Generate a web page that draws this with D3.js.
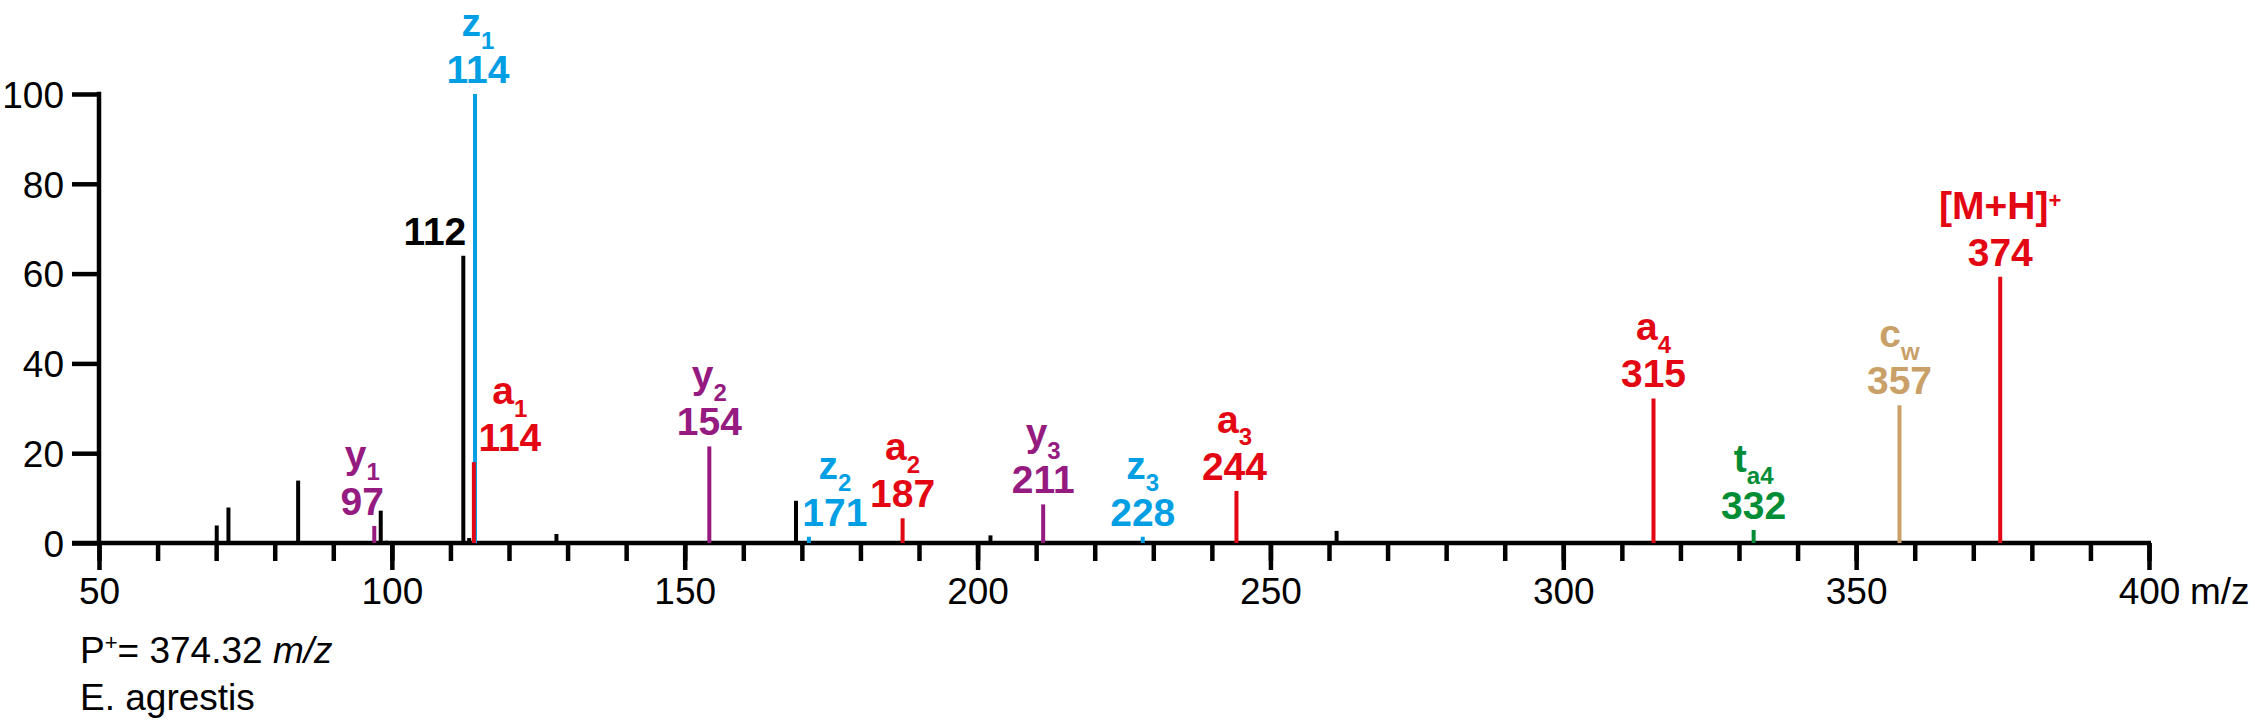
<!DOCTYPE html>
<html>
<head>
<meta charset="utf-8">
<script src="https://cdn.jsdelivr.net/npm/d3@7"></script>
<style>
  html, body { margin: 0; padding: 0; background: #fff; }
  svg { display: block; font-family: "Liberation Sans", Arial, sans-serif; }
</style>
</head>
<body>
<svg id="chart" width="2255" height="723"></svg>
<script>
// ---------------- DATA ----------------
// x axis
const xDomain = [50, 400];
const xMajorTicks = [50, 100, 150, 200, 250, 300, 350, 400];
const xMinorTicks = d3.range(50, 401, 10);
const xUnit = "m/z";
// y axis
const yDomain = [0, 100];
const yTicks = [0, 20, 40, 60, 80, 100];

// unassigned (black) peaks
const otherMz  = [70.1, 72.1, 84.0, 98.1, 112.2, 113.2, 128.1, 169.0, 202.2, 261.3];
const otherInt = [3.9, 7.9, 13.9, 7.2, 64.0, 1.1, 2.0, 9.4, 1.7, 2.7];
// baseline noise peaks
const noiseMz  = [60.0, 99.1, 130.9, 143.2, 151.2, 178.7, 193.9, 240.0, 255.0, 292.6, 297.2, 333.9, 340.4, 344.7, 368.6];
const noiseInt = [0.4, 0.5, 0.3, 0.3, 0.3, 0.3, 0.3, 0.3, 0.3, 0.3, 0.3, 0.3, 0.4, 0.3, 0.4];

// y ions (purple)
const yIonMz  = [97.0, 154.2, 211.2];
const yIonInt = [3.8, 21.5, 8.6];
const yIonSub = ["1", "2", "3"];
const yIonLabel = ["97", "154", "211"];
// z ions (blue)
const zIonMz  = [114.2, 171.2, 228.2];
const zIonInt = [100, 1.4, 1.4];
const zIonSub = ["1", "2", "3"];
const zIonLabel = ["114", "171", "228"];
// a ions (red)
const aIonMz  = [114.0, 187.2, 244.2, 315.4];
const aIonInt = [18.0, 5.5, 11.6, 32.2];
const aIonSub = ["1", "2", "3", "4"];
const aIonLabel = ["114", "187", "244", "315"];
// t ion (green)
const tIonMz = [332.5];
const tIonInt = [2.9];
const tIonSub = ["a4"];
const tIonLabel = ["332"];
// c ion (tan)
const cIonMz = [357.4];
const cIonInt = [30.7];
const cIonSub = ["w"];
const cIonLabel = ["357"];
// precursor (red)
const mhMz = [374.6];
const mhInt = [59.3];
const mhLabel = ["374"];
// labelled black peak
const blackLabelMz = [112.2];
const blackLabelInt = [64.0];
const blackLabel = ["112"];

const noteLine1 = ["P", "+", "= 374.32 ", "m/z"];
const noteLine2 = "E. agrestis";

// ---------------- LAYOUT ----------------
const colors = {
  black: "#000000",
  y: "rgb(149,27,129)",
  z: "rgb(0,159,227)",
  a: "rgb(227,6,19)",
  t: "rgb(0,141,54)",
  c: "rgb(201,160,104)"
};

const svg = d3.select("#chart");
const x = d3.scaleLinear().domain(xDomain).range([99, 2149]);
const y = d3.scaleLinear().domain(yDomain).range([543, 94]);

const AXW = 4.5;
const tickFont = 37;
const labFont = 39;
const subFont = 24;

// ---- axes ----
// x minor ticks
const gxMinor = svg.append("g").attr("transform", `translate(0,${y(0)})`)
  .call(d3.axisBottom(x).tickValues(xMinorTicks).tickSize(18).tickSizeOuter(0).tickFormat(""));
gxMinor.select(".domain").remove();
gxMinor.selectAll("line").attr("stroke", "#000").attr("stroke-width", AXW);

// x major ticks
const gxMajor = svg.append("g").attr("transform", `translate(0,${y(0)})`)
  .call(d3.axisBottom(x).tickValues(xMajorTicks).tickSize(27).tickSizeOuter(0).tickFormat(d3.format("d")));
gxMajor.select(".domain").remove();
gxMajor.selectAll("line").attr("stroke", "#000").attr("stroke-width", AXW);
gxMajor.selectAll("text")
  .attr("y", 61).attr("dy", null)
  .attr("font-size", tickFont).attr("fill", "#000")
  .attr("font-family", "Liberation Sans, Arial, sans-serif");

svg.append("text")
  .attr("x", x(400) + 41).attr("y", y(0) + 61)
  .attr("font-size", tickFont).attr("fill", "#000")
  .text(xUnit);

// y axis
const gy = svg.append("g").attr("transform", `translate(${x(50)},0)`)
  .call(d3.axisLeft(y).tickValues(yTicks).tickSize(27).tickSizeOuter(0).tickFormat(d3.format("d")));
gy.select(".domain").remove();
gy.selectAll("line").attr("stroke", "#000").attr("stroke-width", AXW);
gy.selectAll("text")
  .attr("x", -35).attr("dy", "0.36em")
  .attr("font-size", tickFont).attr("fill", "#000")
  .attr("font-family", "Liberation Sans, Arial, sans-serif");

// axis lines
svg.append("line")
  .attr("x1", x(50) - 27).attr("x2", x(400) + 2)
  .attr("y1", y(0)).attr("y2", y(0))
  .attr("stroke", "#000").attr("stroke-width", AXW);
svg.append("line")
  .attr("x1", x(50)).attr("x2", x(50))
  .attr("y1", y(100) - AXW / 2).attr("y2", y(0))
  .attr("stroke", "#000").attr("stroke-width", AXW);

// ---- peaks ----
function drawPeaks(mz, inten, color, width) {
  svg.append("g").selectAll("line")
    .data(mz.map((m, i) => ({ m, v: inten[i] })))
    .join("line")
    .attr("x1", d => x(d.m)).attr("x2", d => x(d.m))
    .attr("y1", y(0)).attr("y2", d => y(d.v))
    .attr("stroke", color).attr("stroke-width", width);
}
drawPeaks(noiseMz, noiseInt, colors.black, 3);
drawPeaks(otherMz, otherInt, colors.black, 4);
drawPeaks(yIonMz, yIonInt, colors.y, 4);
drawPeaks(zIonMz, zIonInt, colors.z, 4);
drawPeaks(aIonMz, aIonInt, colors.a, 4);
drawPeaks(tIonMz, tIonInt, colors.t, 4);
drawPeaks(cIonMz, cIonInt, colors.c, 4);
drawPeaks(mhMz, mhInt, colors.a, 4);

// ---- labels ----
// horizontal nudges (px) for crowded labels, keyed by series+index
const nudge = { "y0": -12, "z0": 3, "z1": 26, "a0": 36, "a2": -2 };
const NUM_GAP = 11;      // number baseline above peak top
const LINE_GAP = 47;     // letter baseline above number baseline

function drawLabels(key, mz, inten, letter, subs, nums, color, supMode) {
  mz.forEach((m, i) => {
    const cx = x(m) + (nudge[key + i] || 0);
    const nb = y(inten[i]) - NUM_GAP;
    const g = svg.append("g").attr("fill", color).attr("font-weight", "bold");
    g.append("text")
      .attr("x", cx).attr("y", nb)
      .attr("text-anchor", "middle").attr("font-size", labFont)
      .text(nums[i]);
    const t = g.append("text")
      .attr("x", cx).attr("y", nb - LINE_GAP)
      .attr("text-anchor", "middle").attr("font-size", labFont);
    t.append("tspan").text(letter);
    if (supMode) {
      t.append("tspan").attr("dy", -11).attr("font-size", 22).text(subs[i]);
    } else {
      t.append("tspan").attr("dy", 12.5).attr("font-size", subFont).text(subs[i]);
    }
  });
}
drawLabels("y", yIonMz, yIonInt, "y", yIonSub, yIonLabel, colors.y);
drawLabels("z", zIonMz, zIonInt, "z", zIonSub, zIonLabel, colors.z);
drawLabels("a", aIonMz, aIonInt, "a", aIonSub, aIonLabel, colors.a);
drawLabels("t", tIonMz, tIonInt, "t", tIonSub, tIonLabel, colors.t);
drawLabels("c", cIonMz, cIonInt, "c", cIonSub, cIonLabel, colors.c);
drawLabels("m", mhMz, mhInt, "[M+H]", ["+"], mhLabel, colors.a, true);

// black labelled peak (right-aligned to its line)
svg.append("g").selectAll("text")
  .data(blackLabelMz.map((m, i) => ({ m, v: blackLabelInt[i], s: blackLabel[i] })))
  .join("text")
  .attr("x", d => x(d.m) + 3).attr("y", d => y(d.v) - NUM_GAP)
  .attr("text-anchor", "end").attr("font-size", labFont).attr("font-weight", "bold")
  .attr("fill", "#000")
  .text(d => d.s);

// ---- notes ----
const n1 = svg.append("text").attr("x", 80).attr("y", 663).attr("font-size", tickFont).attr("fill", "#000");
n1.append("tspan").text(noteLine1[0]);
n1.append("tspan").attr("dy", -13).attr("font-size", 22).text(noteLine1[1]);
n1.append("tspan").attr("dy", 13).text(noteLine1[2]);
n1.append("tspan").attr("font-style", "italic").text(noteLine1[3]);

svg.append("text").attr("x", 80).attr("y", 710).attr("font-size", tickFont).attr("fill", "#000")
  .text(noteLine2);
</script>
</body>
</html>
